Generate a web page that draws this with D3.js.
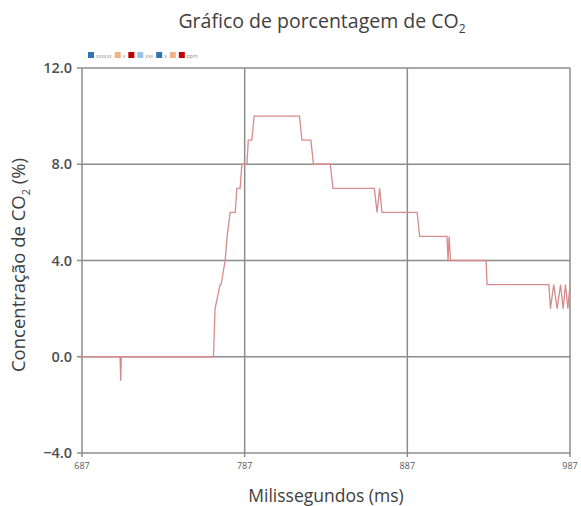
<!DOCTYPE html>
<html>
<head>
<meta charset="utf-8">
<script src="https://cdn.jsdelivr.net/npm/d3@7"></script>
<style>
body{margin:0;background:#fff;}
text{font-family:"Open Sans","Noto Sans",sans-serif;}
</style>
</head>
<body>
<svg width="581" height="506"></svg>
<script>
// leitura do grafico
var tempos = [687,710.4,710.8,711.2,767.8,768.8,771.9,772.5,775,776.2,778.1,781.2,782.2,784.2,785.3,788.4,789.2,791.4,792.8,820.7,822.2,827.7,829.3,839.6,841.3,866.7,868.4,870,871.4,893,894.6,911.4,912,912.7,913.5,935.4,936,974,975,977,979.1,981.2,982.8,984.2,985.7,987];
var co2 = [0,0,-1,0,0,2,3,3,4,5,6,6,7,7,8,8,9,9,10,10,9,9,8,8,7,7,6,7,6,6,5,5,4,5,4,4,3,3,2,3,2,3,2,3,2,3];
var yTicks = [-4,0,4,8,12];
var xTicks = [687,787,887,987];
var legendNames = ["xxxxxx","x","","xxx","x","","ppm"];
var legendColors = ["#2e75b6","#f4b183","#c00000","#9dc3e6","#2e75b6","#f4b183","#c00000"];

function main()
{
var svg = d3.select("svg");
var pLeft = 82, pRight = 570, pTop = 68, pBottom = 453;

var x = d3.scaleLinear().domain([687,987]).range([pLeft,pRight]);
var y = d3.scaleLinear().domain([-4,12]).range([pBottom,pTop]);

// titulo
var title = svg.append("text")
  .attr("x", 322).attr("y", 28)
  .attr("text-anchor","middle")
  .attr("font-size","19.5px")
  .attr("fill","#404040")
  .text("Gráfico de porcentagem de CO");
title.append("tspan").attr("font-size","12px").attr("dy","5").text("2");

// legenda (ilegivel no original)
var lx = 88;
legendNames.forEach(function(n,i){
  svg.append("rect").attr("x",lx).attr("y",52).attr("width",6).attr("height",6).attr("fill",legendColors[i]);
  lx += 8;
  if(n){
    var t = svg.append("text").attr("x",lx).attr("y",58).attr("font-size","5px").attr("fill","#8a8a8a").text(n);
    lx += t.node().getComputedTextLength() + 3;
  } else lx += 1;
});

// grade
svg.append("g").selectAll("line").data(yTicks).enter().append("line")
  .attr("x1",pLeft-5).attr("x2",pRight)
  .attr("y1",function(d){return y(d);}).attr("y2",function(d){return y(d);})
  .attr("stroke","#8c8c8c").attr("stroke-width",1.5);
svg.append("g").selectAll("line").data(xTicks).enter().append("line")
  .attr("x1",function(d){return x(d);}).attr("x2",function(d){return x(d);})
  .attr("y1",pTop).attr("y2",pBottom+4)
  .attr("stroke","#8c8c8c").attr("stroke-width",1.5);

// rotulos eixo y
svg.append("g").selectAll("text").data(yTicks).enter().append("text")
  .attr("x",pLeft-10).attr("y",function(d){return y(d)+5;})
  .attr("text-anchor","end")
  .attr("font-size","14.5px").attr("font-weight","600")
  .attr("fill","#505050")
  .text(function(d){return d3.format(".1f")(d);});

// rotulos eixo x
svg.append("g").selectAll("text").data(xTicks).enter().append("text")
  .attr("x",function(d){return x(d);}).attr("y",pBottom+16)
  .attr("text-anchor","middle")
  .attr("font-size","9px")
  .attr("fill","#595959")
  .text(function(d){return d;});

// linha
var line = d3.line().x(function(d,i){return x(tempos[i]);}).y(function(d){return y(d);});
svg.append("path").datum(co2)
  .attr("d",line)
  .attr("fill","none")
  .attr("stroke","#d98a8c")
  .attr("stroke-width",1.3);

// titulos eixos
svg.append("text")
  .attr("x",326).attr("y",502)
  .attr("text-anchor","middle")
  .attr("font-size","17.5px").attr("fill","#404040")
  .text("Milissegundos (ms)");

var yt = svg.append("text")
  .attr("transform","translate(25,265) rotate(-90)")
  .attr("text-anchor","middle")
  .attr("font-size","18.5px").attr("fill","#404040")
  .text("Concentração de CO");
yt.append("tspan").attr("font-size","11px").attr("dy","5").text("2");
yt.append("tspan").attr("dy","-5").text(" (%)");
}
main();
</script>
</body>
</html>
